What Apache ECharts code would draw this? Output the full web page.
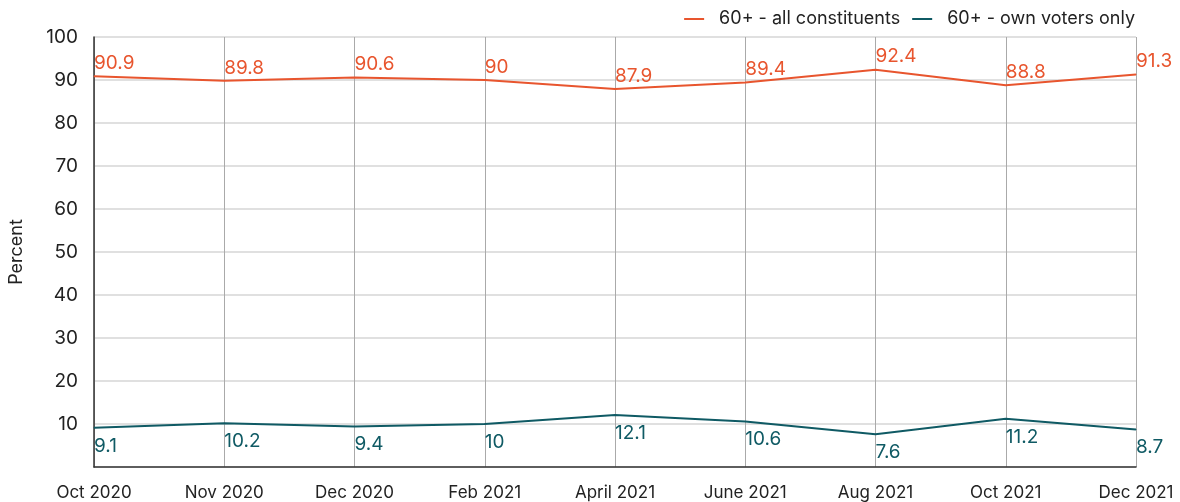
<!DOCTYPE html>
<html>
<head>
<meta charset="utf-8">
<script src="https://cdn.jsdelivr.net/npm/echarts@6/dist/echarts.min.js"></script>
<style>html,body{margin:0;padding:0;background:#fff}#c{width:1180px;height:502px}</style>
</head>
<body>
<div id="c"></div>
<script>
var categories = ['Oct 2020','Nov 2020','Dec 2020','Feb 2021','April 2021','June 2021','Aug 2021','Oct 2021','Dec 2021'];
var allConstituents = [90.9, 89.8, 90.6, 90, 87.9, 89.4, 92.4, 88.8, 91.3];
var ownVoters = [9.1, 10.2, 9.4, 10, 12.1, 10.6, 7.6, 11.2, 8.7];
var yTicks = [0, 10, 20, 30, 40, 50, 60, 70, 80, 90, 100];

var FONT = 'Inter, "Noto Sans", sans-serif';
var ORANGE = '#e8552e';
var TEAL = '#0f5a64';
var chart = echarts.init(document.getElementById('c'));
chart.setOption({
  animation: false,
  textStyle: {fontFamily: FONT},
  legend: {
    right: 40, top: 5,
    itemWidth: 20, itemHeight: 2, itemGap: 12,
    icon: 'rect',
    textStyle: {fontSize: 18, color: '#222', fontFamily: FONT, padding: [0, 0, 0, 10]},
    data: ['60+ - all constituents', '60+ - own voters only']
  },
  grid: {left: 93, right: 44, top: 37, bottom: 35, containLabel: false},
  xAxis: {
    type: 'category',
    data: categories,
    boundaryGap: false,
    axisLine: {lineStyle: {color: '#333', width: 1.5}},
    axisTick: {show: false},
    axisLabel: {fontSize: 17, color: '#222', margin: 17, fontFamily: FONT},
    splitLine: {show: true, lineStyle: {color: '#aaa', width: 1}}
  },
  yAxis: {
    type: 'value',
    min: 0, max: 100, interval: 10,
    name: 'Percent',
    nameLocation: 'middle',
    nameGap: 68,
    nameTextStyle: {fontSize: 18, color: '#222', fontFamily: FONT},
    axisLine: {show: true, lineStyle: {color: '#333', width: 1.5}},
    axisTick: {show: false},
    axisLabel: {
      fontSize: 19, color: '#222', margin: 16, fontFamily: FONT,
      formatter: function (v) { return yTicks.indexOf(v) > 0 ? String(v) : ''; }
    },
    splitLine: {lineStyle: {color: '#d6d6d6', width: 1.5}}
  },
  series: [
    {
      name: '60+ - all constituents',
      type: 'line',
      data: allConstituents,
      color: ORANGE,
      lineStyle: {width: 2, color: ORANGE},
      symbol: 'circle', symbolSize: 1,
      itemStyle: {color: ORANGE},
      label: {show: true, position: 'top', align: 'left', distance: 3, fontSize: 19, color: ORANGE, fontFamily: FONT}
    },
    {
      name: '60+ - own voters only',
      type: 'line',
      data: ownVoters,
      color: TEAL,
      lineStyle: {width: 2, color: TEAL},
      symbol: 'circle', symbolSize: 1,
      itemStyle: {color: TEAL},
      label: {show: true, position: 'bottom', align: 'left', distance: 8, fontSize: 19, color: TEAL, fontFamily: FONT}
    }
  ]
});
</script>
</body>
</html>
